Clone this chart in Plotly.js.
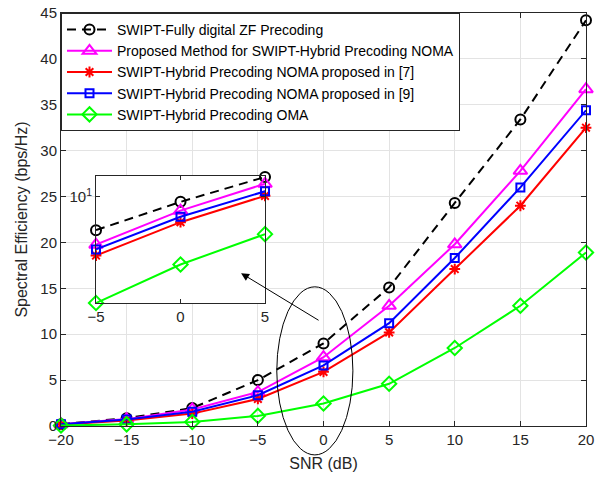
<!DOCTYPE html>
<html>
<head>
<meta charset="utf-8">
<script src="https://cdn.plot.ly/plotly-3.0.1.min.js"></script>
<style>html,body{margin:0;padding:0;background:#fff;}#chart{width:603px;height:479px;}</style>
</head>
<body>
<div id="chart"></div>
<script>
// ---- data ----
const snr = [-20, -15, -10, -5, 0, 5, 10, 15, 20];
const fullyDigitalZF = [0.2, 0.85, 1.95, 5.0, 9.0, 15.1, 24.3, 33.4, 44.2];
const proposedNOMA  = [0.2, 0.75, 1.8, 3.7, 7.5, 13.1, 19.8, 27.8, 36.7];
const noma7         = [0.15, 0.6, 1.35, 2.95, 5.9, 10.2, 17.1, 24.0, 32.5];
const noma9         = [0.18, 0.7, 1.55, 3.35, 6.6, 11.2, 18.3, 26.0, 34.4];
const oma           = [0.05, 0.18, 0.44, 1.1, 2.45, 4.6, 8.5, 13.1, 18.9];
const seriesNames = [
  'SWIPT-Fully digital ZF Precoding',
  'Proposed Method for SWIPT-Hybrid Precoding NOMA',
  'SWIPT-Hybrid Precoding NOMA proposed in [7]',
  'SWIPT-Hybrid Precoding NOMA proposed in [9]',
  'SWIPT-Hybrid Precoding OMA'
];
const xTicks = [-20, -15, -10, -5, 0, 5, 10, 15, 20];
const yTicks = [0, 5, 10, 15, 20, 25, 30, 35, 40, 45];
const insetX = [-5, 0, 5];
const insetStart = snr.indexOf(-5), insetEnd = snr.indexOf(5) + 1;

const styles = [
  {color:'#000000', dash:'9px,6px', symbol:'circle-open', size:10},
  {color:'#ff00ff', dash:'solid', symbol:'triangle-up-open', size:12},
  {color:'#ff0000', dash:'solid', symbol:'asterisk-open', size:9},
  {color:'#0000ff', dash:'solid', symbol:'square-open', size:8},
  {color:'#00ff00', dash:'solid', symbol:'diamond-open', size:11}
];
const allSeries = [fullyDigitalZF, proposedNOMA, noma7, noma9, oma];

const traces = [];
allSeries.forEach((ys, i) => {
  const s = styles[i];
  traces.push({
    x: snr, y: ys, name: seriesNames[i], type: 'scatter', mode: 'lines+markers',
    cliponaxis: false,
    line: {color: s.color, width: 2, dash: s.dash},
    marker: {symbol: s.symbol, size: s.size, color: s.color, line: {color: s.color, width: 2}}
  });
});
allSeries.forEach((ys, i) => {
  const s = styles[i];
  traces.push({
    x: insetX, y: ys.slice(insetStart, insetEnd), type: 'scatter', mode: 'lines+markers',
    xaxis: 'x2', yaxis: 'y2', showlegend: false, cliponaxis: false,
    line: {color: s.color, width: 2, dash: s.dash},
    marker: {symbol: s.symbol, size: s.size, color: s.color, line: {color: s.color, width: 2}}
  });
});

const axisCol = '#262626';
const fam = 'Liberation Sans, Arial, sans-serif';
const font = {family: fam, size: 15, color: axisCol};

const layout = {
  width: 603, height: 479,
  margin: {l: 61, r: 17, t: 13, b: 53},
  paper_bgcolor: '#ffffff', plot_bgcolor: '#ffffff',
  font: font,
  showlegend: true,
  legend: {x: 0, y: 1, xanchor: 'left', yanchor: 'top', bgcolor: '#ffffff',
           bordercolor: axisCol, borderwidth: 1, font: {family: fam, size: 14, color: '#000'},
           tracegroupgap: 0, itemwidth: 45},
  xaxis: {
    domain: [0, 1], range: [-20, 20], tickvals: xTicks, ticks: 'inside', ticklen: 5,
    tickcolor: axisCol, showline: true, linecolor: axisCol, linewidth: 1, mirror: 'ticks',
    showgrid: true, gridcolor: '#e3e3e3', zeroline: false,
    title: {text: 'SNR (dB)', font: {family: fam, size: 16, color: axisCol}, standoff: 10}
  },
  yaxis: {
    domain: [0, 1], range: [0, 45], tickvals: yTicks, ticks: 'inside', ticklen: 5,
    tickcolor: axisCol, showline: true, linecolor: axisCol, linewidth: 1, mirror: 'ticks',
    showgrid: true, gridcolor: '#e3e3e3', zeroline: false,
    title: {text: 'Spectral Efficiency (bps/Hz)', font: {family: fam, size: 16, color: axisCol}, standoff: 8}
  },
  xaxis2: {
    domain: [0.0667, 0.3886], anchor: 'y2', range: [-5, 5], tickvals: insetX,
    ticks: 'inside', ticklen: 4, tickcolor: axisCol, showline: true, linecolor: axisCol,
    mirror: 'ticks', showgrid: false, zeroline: false
  },
  yaxis2: {
    domain: [0.2978, 0.6053], anchor: 'x2', type: 'log',
    range: [Math.log10(1.1), Math.log10(15.4)], tickvals: [10], ticktext: ['10<sup>1</sup>'],
    ticks: 'inside', ticklen: 4, tickcolor: axisCol, showline: true, linecolor: axisCol,
    mirror: 'ticks', showgrid: false, zeroline: false
  },
  shapes: [
    {type: 'circle', xref: 'paper', yref: 'paper', x0: 0.411, x1: 0.556, y0: -0.070, y1: 0.337,
     layer: 'above', line: {color: '#000000', width: 1}},
    {type: 'rect', xref: 'x2', yref: 'y2', x0: -5, x1: 5, y0: 1.1, y1: 15.4,
     layer: 'between', fillcolor: '#ffffff', line: {width: 0}}
  ],
  annotations: [
    {xref: 'paper', yref: 'paper', x: 0.343, y: 0.370, axref: 'pixel', ayref: 'pixel',
     ax: 79, ay: 48, showarrow: true, arrowhead: 2, arrowsize: 1.6, arrowwidth: 1,
     arrowcolor: '#000000', text: ''}
  ]
};

Plotly.newPlot('chart', traces, layout, {displayModeBar: false, staticPlot: true});
</script>
</body>
</html>
